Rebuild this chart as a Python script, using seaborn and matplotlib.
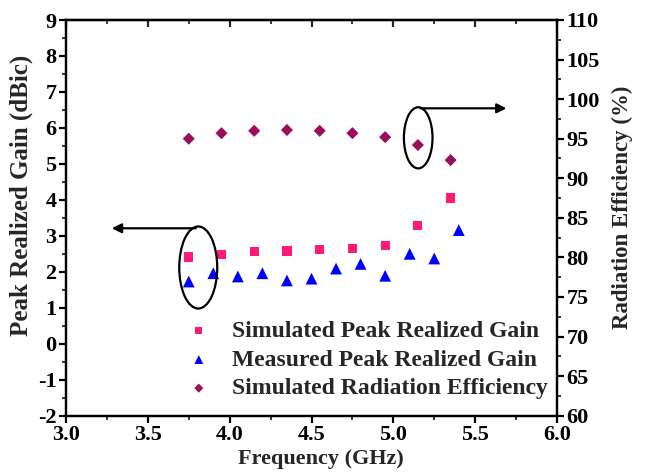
import matplotlib
matplotlib.use("Agg")
import matplotlib.pyplot as plt
from matplotlib.patches import Ellipse
from matplotlib.ticker import MultipleLocator
import seaborn as sns
import pandas as pd

# ---- data ----
sim_freq = [3.75, 3.95, 4.15, 4.35, 4.55, 4.75, 4.95, 5.15, 5.35]
sim_gain = [2.41, 2.49, 2.56, 2.58, 2.62, 2.65, 2.74, 3.28, 4.05]
meas_freq = [3.75, 3.90, 4.05, 4.20, 4.35, 4.50, 4.65, 4.80, 4.95, 5.10, 5.25, 5.40]
meas_gain = [1.73, 1.96, 1.87, 1.96, 1.76, 1.81, 2.09, 2.22, 1.89, 2.50, 2.37, 3.16]
eff_freq = [3.75, 3.95, 4.15, 4.35, 4.55, 4.75, 4.95, 5.15, 5.35]
eff_vals = [95.0, 95.7, 96.0, 96.1, 96.0, 95.7, 95.2, 94.2, 92.3]

labels = ["Simulated Peak Realized Gain", "Measured Peak Realized Gain",
          "Simulated Radiation Efficiency"]
colors = ["#ff1a78", "#0000ff", "#9a0e5c"]

sns.set_theme(style="white")
plt.rcParams["font.family"] = ["Liberation Serif", "DejaVu Serif"]
plt.rcParams["font.weight"] = "bold"
plt.rcParams["axes.unicode_minus"] = False

fig = plt.figure(figsize=(6.46, 4.73), dpi=100)
ax = fig.add_axes([66/646, 1-415.7/473, (557-66)/646, (415.7-20)/473])
ax2 = ax.twinx()

df1 = pd.DataFrame({"f": sim_freq, "g": sim_gain})
df2 = pd.DataFrame({"f": meas_freq, "g": meas_gain})
df3 = pd.DataFrame({"f": eff_freq, "e": eff_vals})

sns.scatterplot(data=df1, x="f", y="g", ax=ax, marker="s", s=44, color=colors[0],
                edgecolor="none", label=labels[0], legend=False)
sns.scatterplot(data=df2, x="f", y="g", ax=ax, marker="^", s=72, color=colors[1],
                edgecolor="none", label=labels[1], legend=False)
sns.scatterplot(data=df3, x="f", y="e", ax=ax2, marker="D", s=38, color=colors[2],
                edgecolor="none", label=labels[2], legend=False)

ax.set_xlim(3.0, 6.0)
ax.set_ylim(-2, 9)
ax2.set_ylim(60, 110)
ax.xaxis.set_major_locator(MultipleLocator(0.5))
ax.xaxis.set_minor_locator(MultipleLocator(0.25))
ax.yaxis.set_major_locator(MultipleLocator(1))
ax.yaxis.set_minor_locator(MultipleLocator(0.5))
ax2.yaxis.set_major_locator(MultipleLocator(5))
ax2.yaxis.set_minor_locator(MultipleLocator(2.5))

TICK_FS = 16
for a in (ax, ax2):
    for s in a.spines.values():
        s.set_linewidth(1.6)
        s.set_color("black")
ax.tick_params(axis="both", which="major", direction="out", length=5, width=1.6,
               labelsize=TICK_FS, colors="black", pad=2)
ax.tick_params(axis="both", which="minor", direction="out", length=3, width=1.3)
ax.tick_params(axis="x", bottom=True, which="both")
ax.tick_params(axis="y", left=True, which="both")
ax2.tick_params(axis="y", which="major", direction="out", length=5, width=1.6,
                labelsize=TICK_FS, colors="black", pad=2, right=True)
ax2.tick_params(axis="y", which="minor", direction="out", length=3, width=1.3, right=True)

top = ax.secondary_xaxis("top")
top.xaxis.set_major_locator(MultipleLocator(0.5))
top.xaxis.set_minor_locator(MultipleLocator(0.25))
top.tick_params(which="major", direction="in", length=5, width=1.6, labeltop=False)
top.tick_params(which="minor", direction="in", length=3, width=1.3)
top.spines["top"].set_linewidth(1.6)

for lab in ax.get_xticklabels() + ax.get_yticklabels() + ax2.get_yticklabels():
    lab.set_fontweight("bold")

ax.set_xlabel("Frequency (GHz)", fontsize=16, fontweight="bold")
ax.xaxis.set_label_coords(0.52, -0.083)
ax.set_ylabel("Peak Realized Gain (dBic)", fontsize=18, fontweight="bold")
ax.yaxis.set_label_coords(-0.068, 0.556)
ax2.set_ylabel("Radiation Efficiency (%)", fontsize=16.5, fontweight="bold")
ax2.yaxis.set_label_coords(1.112, 0.526)

# annotations: ellipses and arrows
ax.add_patch(Ellipse((3.808, 2.12), 0.232, 2.28, fill=False, lw=1.6, ec="black", zorder=5))
ax.annotate("", xy=(3.263, 3.21), xytext=(3.81, 3.21),
            arrowprops=dict(arrowstyle="-|>", lw=1.6, color="black", mutation_scale=14))
ax.add_patch(Ellipse((5.152, 5.725), 0.175, 1.70, fill=False, lw=1.6, ec="black", zorder=5))
ax.annotate("", xy=(5.708, 6.545), xytext=(5.15, 6.545),
            arrowprops=dict(arrowstyle="-|>", lw=1.6, color="black", mutation_scale=14))

h1, l1 = ax.get_legend_handles_labels()
h2, l2 = ax2.get_legend_handles_labels()
leg = ax.legend(h1 + h2, l1 + l2, frameon=False, loc="center left",
                bbox_to_anchor=((187-66)/491, 0.1408), borderpad=0, borderaxespad=0,
                handlelength=1.0, handletextpad=0.9, labelspacing=0.3,
                prop={"family": "Liberation Serif", "weight": "bold", "size": 17},
                markerscale=0.75)

fig.savefig("out.png", dpi=100)
